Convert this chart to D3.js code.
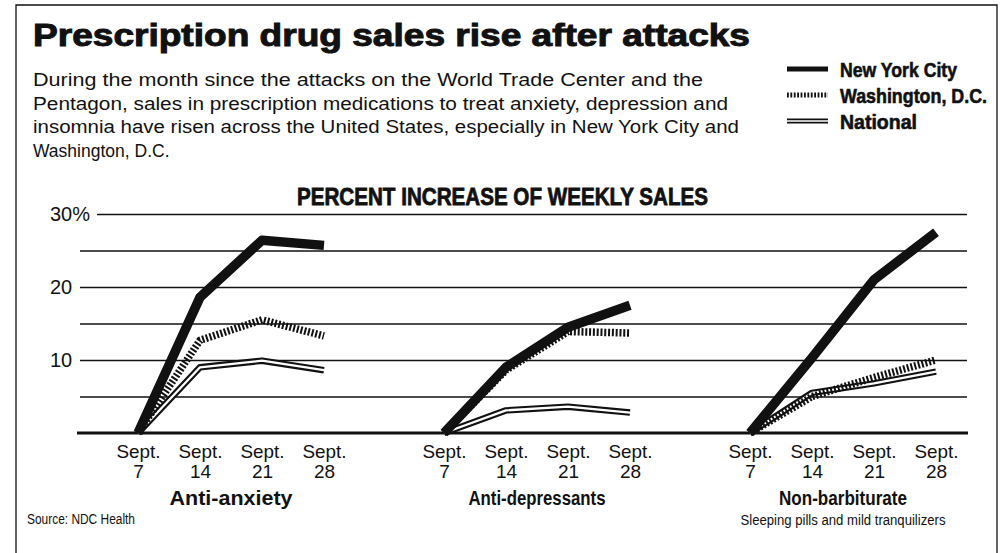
<!DOCTYPE html>
<html>
<head>
<meta charset="utf-8">
<script src="https://cdn.jsdelivr.net/npm/d3@7"></script>
<style>
  body { margin: 0; background: #fff; }
  svg text { font-family: "Liberation Sans", Arial, sans-serif; fill: #111; }
</style>
</head>
<body>
<svg id="chart" width="1004" height="553"></svg>
<script>
var weeks = ["Sept. 7", "Sept. 14", "Sept. 21", "Sept. 28"];
var categories = ["Anti-anxiety", "Anti-depressants", "Non-barbiturate"];
var subLabels = ["", "", "Sleeping pills and mild tranquilizers"];
var seriesNames = ["New York City", "Washington, D.C.", "National"];

var nycData = [[0, 18.6, 26.4, 25.7], [0, 9.0, 14.5, 17.5], [0, 10.3, 21.0, 27.5]];
var washData = [[0, 12.7, 15.5, 13.3], [0, 8.6, 13.9, 13.7], [0, 5.0, 7.6, 10.0]];
var natData = [[0, 9.0, 9.9, 8.6], [0, 3.1, 3.6, 2.8], [0, 5.5, 6.8, 8.4]];

var gridTicks = [5, 10, 15, 20, 25, 30];
var labelTicks = [10, 20, 30];

var title = "Prescription drug sales rise after attacks";
var intro = [
  "During the month since the attacks on the World Trade Center and the",
  "Pentagon, sales in prescription medications to treat anxiety, depression and",
  "insomnia have risen across the United States, especially in New York City and",
  "Washington, D.C."
];
var introWidths = [670, 695, 706, 0];
var chartTitle = "PERCENT INCREASE OF WEEKLY SALES";
var source = "Source: NDC Health";

var svg = d3.select("#chart");
var ink = "#111";

// frame
svg.append("path")
  .attr("d", "M16,553 V5 H997 V553")
  .attr("fill", "none").attr("stroke", ink).attr("stroke-width", 1.3);

// headline
svg.append("text")
  .attr("x", 33).attr("y", 46)
  .attr("font-size", 31).attr("font-weight", 900)
  .attr("stroke", ink).attr("stroke-width", 1)
  .attr("textLength", 717).attr("lengthAdjust", "spacingAndGlyphs")
  .text(title);

svg.selectAll(".intro").data(intro).enter().append("text")
  .attr("class", "intro")
  .attr("x", 33).attr("y", (d, i) => 86 + i * 23.5)
  .attr("font-size", 17.5)
  .attr("textLength", (d, i) => introWidths[i] || null)
  .attr("lengthAdjust", "spacingAndGlyphs")
  .text(d => d);

// scales
var y = d3.scaleLinear().domain([0, 30]).range([433, 214]);
var panelX = d3.scalePoint().domain(categories).range([138, 750]);
var x = d3.scalePoint().domain(weeks).range([0, 186]);

// grid lines
svg.append("g")
  .attr("transform", "translate(967,0)")
  .call(d3.axisLeft(y).tickValues(gridTicks).tickSize(887).tickFormat(""))
  .call(g => g.select(".domain").remove())
  .call(g => g.selectAll(".tick line")
    .attr("stroke", ink).attr("stroke-width", 1.5)
    .attr("x2", d => d === 30 ? -870 : -887));

svg.append("line")
  .attr("x1", 77).attr("x2", 968)
  .attr("y1", y(0)).attr("y2", y(0))
  .attr("stroke", ink).attr("stroke-width", 3.2);

svg.selectAll(".ylab").data(labelTicks).enter().append("text")
  .attr("class", "ylab")
  .attr("x", 50).attr("y", d => y(d) + 7)
  .attr("font-size", 20)
  .text(d => d === 30 ? d + "%" : d);

// chart title
svg.append("text")
  .attr("x", 297).attr("y", 205)
  .attr("font-size", 24).attr("font-weight", 700)
  .attr("stroke", ink).attr("stroke-width", 0.8)
  .attr("textLength", 411).attr("lengthAdjust", "spacingAndGlyphs")
  .text(chartTitle);

var line = d3.line()
  .x((d, j) => x(weeks[j]))
  .y(d => y(d));

var catWidths = [123, 137, 128];

categories.forEach(function (cat, i) {
  var g = svg.append("g").attr("transform", `translate(${panelX(cat)},0)`);

  // National: double rule
  g.append("path").datum(natData[i])
    .attr("d", line).attr("fill", "none")
    .attr("stroke", ink).attr("stroke-width", 6.5).attr("stroke-linejoin", "round");
  g.append("path").datum(natData[i])
    .attr("d", line).attr("fill", "none")
    .attr("stroke", "#fff").attr("stroke-width", 2.3).attr("stroke-linejoin", "round");

  // Washington: hatched
  g.append("path").datum(washData[i])
    .attr("d", line).attr("fill", "none")
    .attr("stroke", ink).attr("stroke-width", 7.5)
    .attr("stroke-dasharray", "2,1.8");

  // New York: heavy
  g.append("path").datum(nycData[i])
    .attr("d", line).attr("fill", "none")
    .attr("stroke", ink).attr("stroke-width", 9.5).attr("stroke-linejoin", "round");

  // week labels
  var ax = g.append("g")
    .attr("transform", "translate(0,437)")
    .call(d3.axisBottom(x).tickSize(0).tickPadding(0))
    .call(a => a.select(".domain").remove());
  ax.attr("font-family", null).attr("font-size", null);
  ax.selectAll(".tick text").each(function (d) {
    var parts = d.split(" ");
    var t = d3.select(this).text(null).attr("dy", null).attr("y", 0)
      .attr("font-size", 19).attr("text-anchor", "middle");
    t.append("tspan").attr("x", 0).attr("y", 21)
      .attr("textLength", 44).attr("lengthAdjust", "spacingAndGlyphs").text(parts[0]);
    t.append("tspan").attr("x", 0).attr("y", 41).text(parts[1]);
  });

  g.append("text")
    .attr("x", x.range()[1] / 2).attr("y", 505)
    .attr("text-anchor", "middle")
    .attr("font-size", 20).attr("font-weight", 700)
    .attr("textLength", catWidths[i]).attr("lengthAdjust", "spacingAndGlyphs")
    .text(cat);

  if (subLabels[i]) {
    g.append("text")
      .attr("x", x.range()[1] / 2).attr("y", 525)
      .attr("text-anchor", "middle")
      .attr("font-size", 14)
      .attr("textLength", 205).attr("lengthAdjust", "spacingAndGlyphs")
      .text(subLabels[i]);
  }
});

svg.append("text")
  .attr("x", 27).attr("y", 524)
  .attr("font-size", 14)
  .attr("textLength", 108).attr("lengthAdjust", "spacingAndGlyphs")
  .text(source);

// legend
var legendY = d3.scalePoint().domain(seriesNames).range([69, 121]);
var lg = svg.append("g");
seriesNames.forEach(function (name, k) {
  var ly = legendY(name);
  if (k === 0) {
    lg.append("line").attr("x1", 787).attr("x2", 828).attr("y1", ly).attr("y2", ly)
      .attr("stroke", ink).attr("stroke-width", 5);
  } else if (k === 1) {
    lg.append("line").attr("x1", 787).attr("x2", 828).attr("y1", ly).attr("y2", ly)
      .attr("stroke", ink).attr("stroke-width", 5).attr("stroke-dasharray", "1.8,1.6");
  } else {
    lg.append("line").attr("x1", 787).attr("x2", 828).attr("y1", ly).attr("y2", ly)
      .attr("stroke", ink).attr("stroke-width", 5);
    lg.append("line").attr("x1", 787).attr("x2", 828).attr("y1", ly).attr("y2", ly)
      .attr("stroke", "#fff").attr("stroke-width", 1.6);
  }
  lg.append("text")
    .attr("x", 840).attr("y", ly + 7.5)
    .attr("font-size", 20).attr("font-weight", 700)
    .attr("stroke", ink).attr("stroke-width", 0.6)
    .attr("textLength", [117, 147, 77][k]).attr("lengthAdjust", "spacingAndGlyphs")
    .text(name);
});
</script>
</body>
</html>
